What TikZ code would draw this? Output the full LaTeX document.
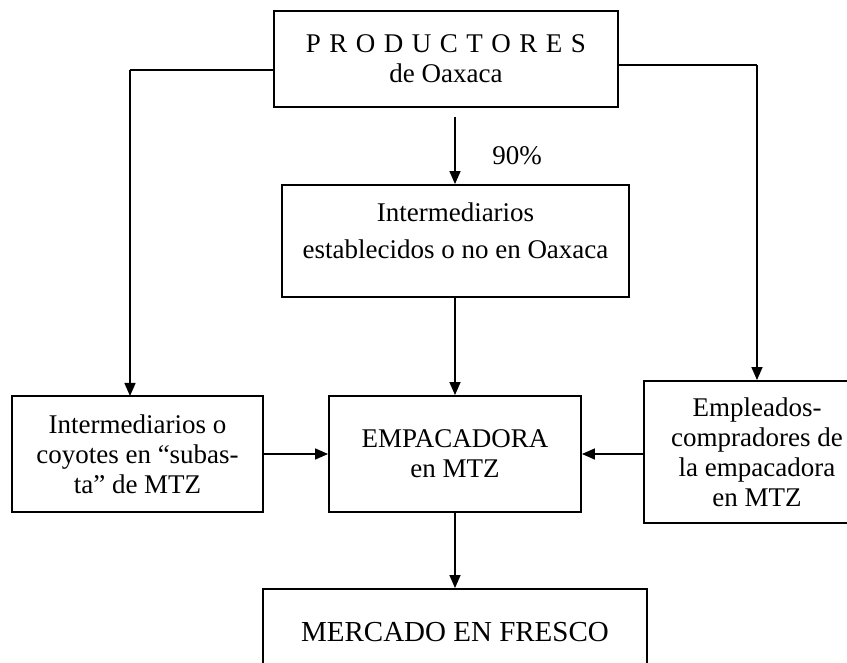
\documentclass[tikz,border=0pt]{standalone}
\usepackage{fontspec}
\setmainfont{Liberation Serif}
\usetikzlibrary{arrows.meta}
\begin{document}
\begin{tikzpicture}[x=1pt,y=-1pt,
  box/.style={draw, line width=1.9pt, rectangle, inner sep=0pt, align=center,
    font=\fontsize{27}{30}\selectfont},
  txt/.style={inner sep=0pt, align=center, font=\fontsize{27}{30}\selectfont},
  arr/.style={line width=1.5pt, -{Triangle[length=13pt,width=11pt]}},
  ln/.style={line width=1.5pt}]
\useasboundingbox (0,0) rectangle (847,663);
\clip (0,0) rectangle (847,663);
% boxes
\node[box, minimum width=344pt, minimum height=96pt] (prod) at (446,59)
  {{\spaceskip=8.5pt P R O D U C T O R E S}\\de Oaxaca};
\node[box, minimum width=347pt, minimum height=112pt] (int) at (455.5,241) {};
\node[txt] (intT) at (455.5,231) {Intermediarios\\[7pt]establecidos o no en Oaxaca};
\node[box, minimum width=251pt, minimum height=116pt] (izq) at (137.5,454)
  {Intermediarios o\\coyotes en “subas-\\ta” de MTZ};
\node[box, minimum width=252pt, minimum height=116pt] (emp) at (455,454)
  {EMPACADORA\\en MTZ};
\node[box, minimum width=226pt, minimum height=142pt] (der) at (757,452)
  {Empleados-\\compradores de\\la empacadora\\en MTZ};
\node[box, minimum width=384pt, minimum height=86pt,
  font=\fontsize{29}{32}\selectfont] (mer) at (455,632) {MERCADO EN FRESCO};
% coordinates
\coordinate (p0) at (455,117);
\coordinate (pl) at (274,70);
\coordinate (lc) at (130,70);
\coordinate (lt) at (130,396);
\coordinate (pr) at (618,65);
\coordinate (rc) at (757,65);
% connectors
\draw[arr] (p0) -- (p0 |- int.north);
\node[txt] (pct) at (517,156) {90\%};
\draw[arr] (int.south -| emp.north) -- (emp.north);
\draw[ln] (pl) -- (lc);
\draw[arr] (lc) -- (lt);
\draw[ln] (pr) -- (rc);
\draw[arr] (rc) -- (der.north);
\draw[arr] (izq.east) -- (emp.west);
\draw[arr] (der.west |- emp.east) -- (emp.east);
\draw[arr] (emp.south) -- (mer.north);
\end{tikzpicture}
\end{document}
